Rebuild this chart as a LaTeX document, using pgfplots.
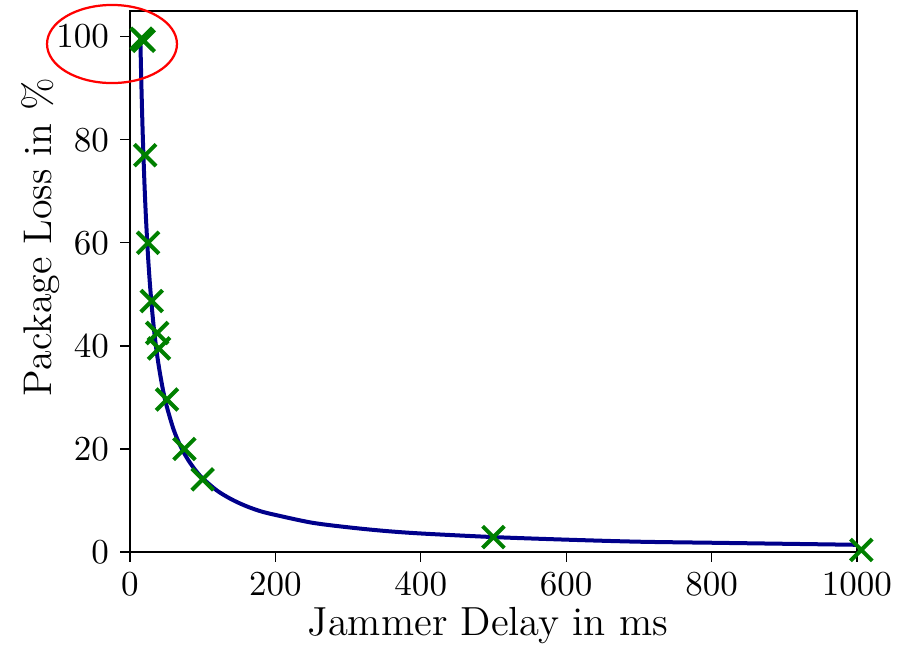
\documentclass[border=0pt]{standalone}
\usepackage{pgfplots}
\pgfplotsset{compat=1.18}
\definecolor{curveblue}{RGB}{0,0,139}
\definecolor{markgreen}{RGB}{0,128,0}

\begin{document}
\begin{tikzpicture}
\begin{axis}[
    scale only axis,
    width=227.2pt, height=169.1pt,
    xmin=0, xmax=1000,
    ymin=0, ymax=105,
    xtick={0,200,400,600,800,1000},
    ytick={0,20,40,60,80,100},
    /pgf/number format/1000 sep={},
    tick pos=left,
    tick align=outside,
    major tick length=3pt,
    tick style={black, line width=0.4pt},
    axis line style={black, line width=0.4pt},
    ticklabel style={font=\fontsize{11.3}{13}\selectfont},
    xlabel={Jammer Delay in ms},
    ylabel={Package Loss in \%},
    xlabel style={font=\fontsize{12.7}{15}\selectfont,
        at={(axis description cs:0.4924,-0.135)}, anchor=center},
    ylabel style={font=\fontsize{12.5}{15}\selectfont,
        at={(axis description cs:-0.1224,0.582)}, anchor=center},
    clip=false,
]

% fitted curve
\addplot[curveblue, line width=1.25pt, smooth] coordinates {
    (14.3,100) (15,95.3) (16,89.4) (17,84.1) (18,79.4) (20,71.5)
    (22,65.0) (25,57.2) (28,51.1) (32,44.7) (36,39.7) (40,35.8)
    (45,31.8) (50,28.6) (60,23.8) (70,20.4) (80,17.9) (90,15.9)
    (100,14.3) (120,11.9) (140,10.2) (160,8.9) (180,7.9) (200,7.2)
    (250,5.7) (300,4.8) (350,4.1) (400,3.6) (500,2.9) (600,2.4)
    (700,2.0) (800,1.8) (900,1.6) (1000,1.4)
};

% measurements
\addplot[only marks, mark=x, mark size=4.8pt, markgreen,
    mark options={line width=1.25pt}] coordinates {
    (16,99.6) (19,99.2) (21,77) (25,60) (30,48.7) (37.5,42.5)
    (40,39.5) (51,29.6) (75,20) (100,14.1) (500,2.9) (1006,0.4)
};
\end{axis}
\draw[red, line width=0.7pt] (-5.6pt,158.75pt) ellipse [x radius=20.3pt, y radius=12.2pt];
\pgfresetboundingbox
\path (-40.6pt,-29.4pt) rectangle (241.9pt,172.5pt);
\end{tikzpicture}
\end{document}
